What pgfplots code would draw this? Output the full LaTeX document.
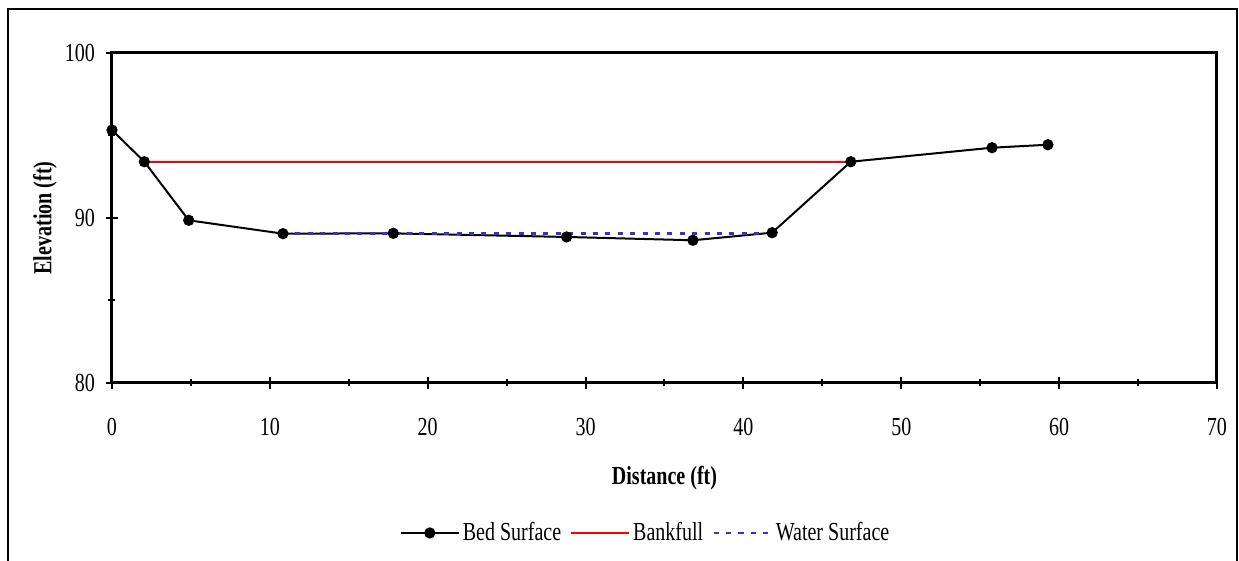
\documentclass[border=0pt]{standalone}
\usepackage{fontspec}
\setmainfont{Liberation Serif}[FakeStretch=0.77]
\usepackage{pgfplots}
\pgfplotsset{compat=1.18}
\definecolor{wsblue}{RGB}{51,51,204}
\newcommand{\ff}{\fontsize{13pt}{15.5pt}\selectfont}
\begin{document}
\begin{tikzpicture}
\useasboundingbox (0,0) rectangle (619.5pt,280.5pt);
\draw[line width=1pt] (4pt,-10pt) rectangle (618.5pt,276pt);
\begin{axis}[
  at={(56pt,89pt)}, anchor=south west,
  scale only axis, width=552.5pt, height=165pt,
  xmin=0, xmax=70, ymin=80, ymax=100,
  xtick={0,10,...,70}, ytick={80,90,100},
  minor x tick num=1, minor y tick num=1,
  tick pos=left,
  axis line style={line width=1.5pt},
  major tick style={line width=1pt, black},
  minor tick style={line width=1pt, black},
  major tick length=6pt, minor tick length=3.5pt,
  tick align=center,
  /pgf/number format/assume math mode=true,
  ticklabel style={font=\ff},
  xticklabel style={yshift=-11pt},
  yticklabel style={xshift=-2pt},
  xlabel={\textbf{Distance (ft)}},
  ylabel={\textbf{Elevation (ft)}},
  label style={font=\ff},
  xlabel style={at={(axis description cs:0.5,0)}, anchor=center, yshift=-47.5pt},
  ylabel style={at={(axis description cs:0,0.5)}, anchor=center, yshift=33.5pt},
  legend columns=3,
  legend style={at={(0.4833,-0.4545)}, anchor=center, draw=none, font=\ff,
    nodes={inner xsep=1.5pt},
    /tikz/every even column/.append style={column sep=3pt}},
  legend image code/.code={\draw[mark repeat=2,mark phase=2,#1] plot coordinates {(0pt,0pt)(14.5pt,0pt)(29pt,0pt)};},
]
\addplot[black, line width=1pt, mark=*, mark size=2.3pt] coordinates {
(0,95.33) (2.05,93.41) (4.86,89.86) (10.83,89.05) (17.82,89.07) (28.8,88.85)
(36.8,88.65) (41.82,89.11) (46.8,93.41) (55.75,94.26) (59.29,94.44)};
\addlegendentry{Bed Surface}
\addplot[red, line width=1pt] coordinates {(2.05,93.41) (46.8,93.41)};
\addlegendentry{Bankfull}
\addplot[wsblue, line width=1.3pt, dash pattern=on 2.5pt off 3.7pt] coordinates {(10.83,89.07) (41.82,89.07)};
\addlegendentry{Water Surface}
\end{axis}
\end{tikzpicture}
\end{document}
